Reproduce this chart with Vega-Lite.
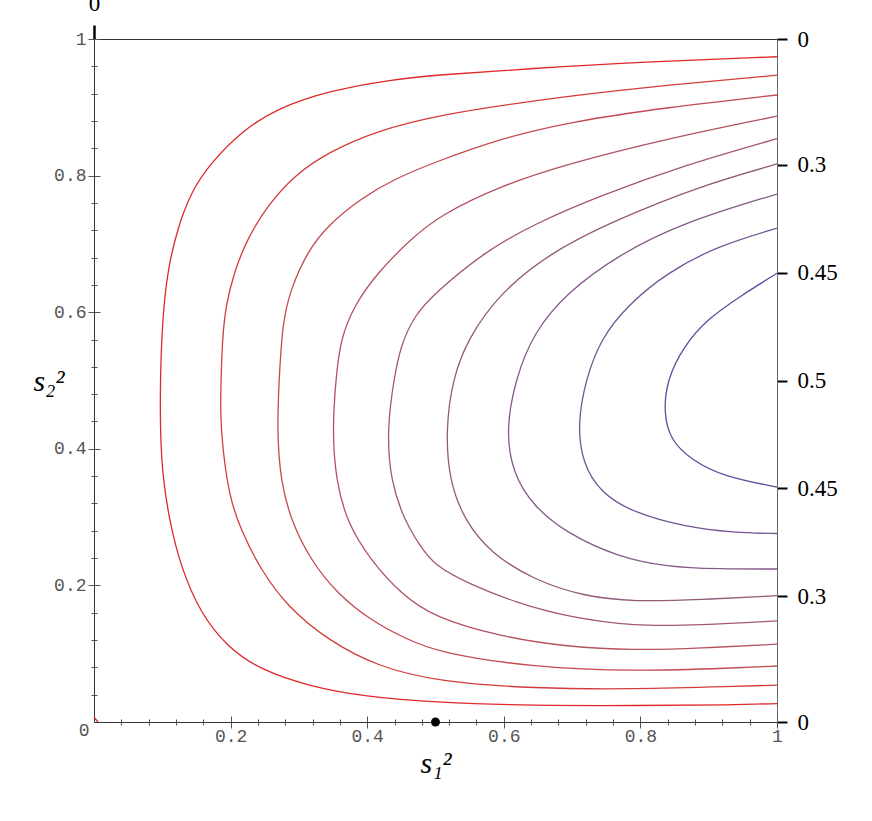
{
  "$schema": "https://vega.github.io/schema/vega-lite/v6.json",
  "width": 683,
  "height": 683,
  "autosize": {"type": "none"},
  "padding": {"left": 94, "top": 39, "right": 95, "bottom": 99},
  "background": "white",
  "config": {"view": {"stroke": null}, "axis": {"grid": false, "labelOverlap": false, "labelFlush": false}},
  "datasets": {
    "dot": [{"x": 0.5, "y": 0}],
    "contours": [
      {"c":"c0","i":0,"x":0,"y":0.007},{"c":"c0","i":1,"x":0.006,"y":0},
      {"c":"c1","i":0,"x":1,"y":0.974},{"c":"c1","i":1,"x":0.791,"y":0.966},{"c":"c1","i":2,"x":0.644,"y":0.957},{"c":"c1","i":3,"x":0.498,"y":0.947},{"c":"c1","i":4,"x":0.439,"y":0.941},{"c":"c1","i":5,"x":0.342,"y":0.924},{"c":"c1","i":6,"x":0.268,"y":0.898},{"c":"c1","i":7,"x":0.22,"y":0.868},{"c":"c1","i":8,"x":0.171,"y":0.819},{"c":"c1","i":9,"x":0.142,"y":0.776},{"c":"c1","i":10,"x":0.122,"y":0.722},{"c":"c1","i":11,"x":0.107,"y":0.658},{"c":"c1","i":12,"x":0.1,"y":0.585},{"c":"c1","i":13,"x":0.097,"y":0.502},{"c":"c1","i":14,"x":0.097,"y":0.428},{"c":"c1","i":15,"x":0.1,"y":0.364},{"c":"c1","i":16,"x":0.11,"y":0.296},{"c":"c1","i":17,"x":0.127,"y":0.227},{"c":"c1","i":18,"x":0.156,"y":0.159},{"c":"c1","i":19,"x":0.195,"y":0.11},{"c":"c1","i":20,"x":0.244,"y":0.076},{"c":"c1","i":21,"x":0.317,"y":0.052},{"c":"c1","i":22,"x":0.39,"y":0.038},{"c":"c1","i":23,"x":0.505,"y":0.028},{"c":"c1","i":24,"x":0.644,"y":0.024},{"c":"c1","i":25,"x":0.791,"y":0.024},{"c":"c1","i":26,"x":0.937,"y":0.025},{"c":"c1","i":27,"x":1,"y":0.027},
      {"c":"c2","i":0,"x":1,"y":0.947},{"c":"c2","i":1,"x":0.791,"y":0.928},{"c":"c2","i":2,"x":0.644,"y":0.91},{"c":"c2","i":3,"x":0.505,"y":0.889},{"c":"c2","i":4,"x":0.415,"y":0.866},{"c":"c2","i":5,"x":0.342,"y":0.834},{"c":"c2","i":6,"x":0.293,"y":0.8},{"c":"c2","i":7,"x":0.254,"y":0.756},{"c":"c2","i":8,"x":0.224,"y":0.707},{"c":"c2","i":9,"x":0.205,"y":0.658},{"c":"c2","i":10,"x":0.193,"y":0.61},{"c":"c2","i":11,"x":0.188,"y":0.561},{"c":"c2","i":12,"x":0.186,"y":0.502},{"c":"c2","i":13,"x":0.185,"y":0.452},{"c":"c2","i":14,"x":0.188,"y":0.403},{"c":"c2","i":15,"x":0.198,"y":0.33},{"c":"c2","i":16,"x":0.215,"y":0.281},{"c":"c2","i":17,"x":0.244,"y":0.223},{"c":"c2","i":18,"x":0.283,"y":0.169},{"c":"c2","i":19,"x":0.342,"y":0.12},{"c":"c2","i":20,"x":0.415,"y":0.081},{"c":"c2","i":21,"x":0.505,"y":0.059},{"c":"c2","i":22,"x":0.644,"y":0.049},{"c":"c2","i":23,"x":0.791,"y":0.048},{"c":"c2","i":24,"x":0.937,"y":0.052},{"c":"c2","i":25,"x":1,"y":0.054},
      {"c":"c3","i":0,"x":1,"y":0.918},{"c":"c3","i":1,"x":0.839,"y":0.9},{"c":"c3","i":2,"x":0.693,"y":0.878},{"c":"c3","i":3,"x":0.595,"y":0.854},{"c":"c3","i":4,"x":0.505,"y":0.822},{"c":"c3","i":5,"x":0.439,"y":0.795},{"c":"c3","i":6,"x":0.39,"y":0.766},{"c":"c3","i":7,"x":0.342,"y":0.727},{"c":"c3","i":8,"x":0.312,"y":0.688},{"c":"c3","i":9,"x":0.288,"y":0.634},{"c":"c3","i":10,"x":0.276,"y":0.585},{"c":"c3","i":11,"x":0.271,"y":0.502},{"c":"c3","i":12,"x":0.268,"y":0.428},{"c":"c3","i":13,"x":0.273,"y":0.354},{"c":"c3","i":14,"x":0.288,"y":0.296},{"c":"c3","i":15,"x":0.317,"y":0.237},{"c":"c3","i":16,"x":0.356,"y":0.188},{"c":"c3","i":17,"x":0.405,"y":0.149},{"c":"c3","i":18,"x":0.454,"y":0.123},{"c":"c3","i":19,"x":0.505,"y":0.101},{"c":"c3","i":20,"x":0.644,"y":0.08},{"c":"c3","i":21,"x":0.791,"y":0.074},{"c":"c3","i":22,"x":0.937,"y":0.079},{"c":"c3","i":23,"x":1,"y":0.082},
      {"c":"c4","i":0,"x":1,"y":0.887},{"c":"c4","i":1,"x":0.839,"y":0.854},{"c":"c4","i":2,"x":0.693,"y":0.817},{"c":"c4","i":3,"x":0.595,"y":0.785},{"c":"c4","i":4,"x":0.505,"y":0.741},{"c":"c4","i":5,"x":0.464,"y":0.707},{"c":"c4","i":6,"x":0.415,"y":0.658},{"c":"c4","i":7,"x":0.381,"y":0.61},{"c":"c4","i":8,"x":0.361,"y":0.561},{"c":"c4","i":9,"x":0.354,"y":0.502},{"c":"c4","i":10,"x":0.349,"y":0.428},{"c":"c4","i":11,"x":0.354,"y":0.354},{"c":"c4","i":12,"x":0.371,"y":0.291},{"c":"c4","i":13,"x":0.405,"y":0.237},{"c":"c4","i":14,"x":0.449,"y":0.188},{"c":"c4","i":15,"x":0.498,"y":0.153},{"c":"c4","i":16,"x":0.595,"y":0.125},{"c":"c4","i":17,"x":0.693,"y":0.11},{"c":"c4","i":18,"x":0.791,"y":0.105},{"c":"c4","i":19,"x":0.888,"y":0.108},{"c":"c4","i":20,"x":1,"y":0.114},
      {"c":"c5","i":0,"x":1,"y":0.854},{"c":"c5","i":1,"x":0.864,"y":0.815},{"c":"c5","i":2,"x":0.742,"y":0.771},{"c":"c5","i":3,"x":0.644,"y":0.729},{"c":"c5","i":4,"x":0.571,"y":0.688},{"c":"c5","i":5,"x":0.498,"y":0.627},{"c":"c5","i":6,"x":0.469,"y":0.595},{"c":"c5","i":7,"x":0.449,"y":0.551},{"c":"c5","i":8,"x":0.439,"y":0.502},{"c":"c5","i":9,"x":0.429,"y":0.428},{"c":"c5","i":10,"x":0.434,"y":0.354},{"c":"c5","i":11,"x":0.454,"y":0.296},{"c":"c5","i":12,"x":0.478,"y":0.257},{"c":"c5","i":13,"x":0.498,"y":0.23},{"c":"c5","i":14,"x":0.547,"y":0.203},{"c":"c5","i":15,"x":0.62,"y":0.174},{"c":"c5","i":16,"x":0.693,"y":0.154},{"c":"c5","i":17,"x":0.791,"y":0.14},{"c":"c5","i":18,"x":0.888,"y":0.142},{"c":"c5","i":19,"x":1,"y":0.148},
      {"c":"c6","i":0,"x":1,"y":0.817},{"c":"c6","i":1,"x":0.888,"y":0.785},{"c":"c6","i":2,"x":0.766,"y":0.736},{"c":"c6","i":3,"x":0.669,"y":0.688},{"c":"c6","i":4,"x":0.595,"y":0.629},{"c":"c6","i":5,"x":0.547,"y":0.561},{"c":"c6","i":6,"x":0.525,"y":0.502},{"c":"c6","i":7,"x":0.515,"y":0.428},{"c":"c6","i":8,"x":0.52,"y":0.354},{"c":"c6","i":9,"x":0.542,"y":0.296},{"c":"c6","i":10,"x":0.581,"y":0.247},{"c":"c6","i":11,"x":0.644,"y":0.208},{"c":"c6","i":12,"x":0.717,"y":0.184},{"c":"c6","i":13,"x":0.791,"y":0.176},{"c":"c6","i":14,"x":0.888,"y":0.179},{"c":"c6","i":15,"x":1,"y":0.185},
      {"c":"c7","i":0,"x":1,"y":0.773},{"c":"c7","i":1,"x":0.864,"y":0.732},{"c":"c7","i":2,"x":0.766,"y":0.683},{"c":"c7","i":3,"x":0.693,"y":0.629},{"c":"c7","i":4,"x":0.644,"y":0.571},{"c":"c7","i":5,"x":0.617,"y":0.502},{"c":"c7","i":6,"x":0.603,"y":0.428},{"c":"c7","i":7,"x":0.613,"y":0.364},{"c":"c7","i":8,"x":0.644,"y":0.315},{"c":"c7","i":9,"x":0.693,"y":0.276},{"c":"c7","i":10,"x":0.766,"y":0.242},{"c":"c7","i":11,"x":0.839,"y":0.227},{"c":"c7","i":12,"x":0.913,"y":0.224},{"c":"c7","i":13,"x":1,"y":0.224},
      {"c":"c8","i":0,"x":1,"y":0.723},{"c":"c8","i":1,"x":0.913,"y":0.697},{"c":"c8","i":2,"x":0.839,"y":0.658},{"c":"c8","i":3,"x":0.781,"y":0.61},{"c":"c8","i":4,"x":0.742,"y":0.561},{"c":"c8","i":5,"x":0.72,"y":0.502},{"c":"c8","i":6,"x":0.708,"y":0.437},{"c":"c8","i":7,"x":0.715,"y":0.379},{"c":"c8","i":8,"x":0.742,"y":0.335},{"c":"c8","i":9,"x":0.791,"y":0.306},{"c":"c8","i":10,"x":0.864,"y":0.286},{"c":"c8","i":11,"x":0.937,"y":0.277},{"c":"c8","i":12,"x":1,"y":0.276},
      {"c":"c9","i":0,"x":1,"y":0.657},{"c":"c9","i":1,"x":0.947,"y":0.624},{"c":"c9","i":2,"x":0.898,"y":0.59},{"c":"c9","i":3,"x":0.864,"y":0.551},{"c":"c9","i":4,"x":0.839,"y":0.502},{"c":"c9","i":5,"x":0.834,"y":0.452},{"c":"c9","i":6,"x":0.844,"y":0.413},{"c":"c9","i":7,"x":0.874,"y":0.384},{"c":"c9","i":8,"x":0.922,"y":0.359},{"c":"c9","i":9,"x":1,"y":0.344}
    ]
  },
  "resolve": {"axis": {"x": "independent", "y": "independent"}},
  "layer": [
    {
      "data": {"name": "contours"},
      "mark": {"type": "line", "interpolate": "basis", "strokeWidth": 1.3},
      "encoding": {
        "x": {"field": "x", "type": "quantitative", "scale": {"domain": [0, 1], "nice": false, "zero": false},
          "axis": {"orient": "bottom", "values": [0.2, 0.4, 0.6, 0.8, 1], "format": "~g", "tickSize": 6, "tickColor": "#555", "domainColor": "#333",
            "labelFont": "Liberation Mono", "labelFontSize": 18, "labelColor": "#555", "labelPadding": -1,
            "title": "s₁²", "titleFont": "Liberation Serif", "titleFontSize": 30, "titleFontStyle": "italic", "titleFontWeight": "normal", "titleColor": "#000",
            "titleBaseline": "alphabetic", "titleAlign": "center", "titleX": 341.5, "titleY": 50}},
        "y": {"field": "y", "type": "quantitative", "scale": {"domain": [0, 1], "nice": false, "zero": false},
          "axis": {"orient": "left", "values": [0.2, 0.4, 0.6, 0.8, 1], "format": "~g", "tickSize": 6, "tickColor": "#555", "domainColor": "#333",
            "labelFont": "Liberation Mono", "labelFontSize": 18, "labelColor": "#555", "labelPadding": 2,
            "title": "s₂²", "titleFont": "Liberation Serif", "titleFontSize": 30, "titleFontStyle": "italic", "titleFontWeight": "normal", "titleColor": "#000",
            "titleAngle": 0, "titleAlign": "right", "titleBaseline": "alphabetic", "titleX": -30, "titleY": 351}},
        "color": {"field": "c", "type": "nominal", "legend": null,
          "scale": {"domain": ["c0", "c1", "c2", "c3", "c4", "c5", "c6", "c7", "c8", "c9"],
                    "range": ["#e02828", "#e02828", "#d43c3c", "#c44a50", "#b4525e", "#a4586c", "#945a7a", "#845a88", "#725594", "#5f4c9e"]}},
        "order": {"field": "i", "type": "quantitative"}
      }
    },
    {
      "data": {"name": "dot"},
      "mark": {"type": "point", "filled": true, "color": "#000", "opacity": 1, "size": 80},
      "encoding": {
        "x": {"field": "x", "type": "quantitative", "scale": {"domain": [0, 1], "nice": false, "zero": false},
          "axis": {"orient": "bottom", "values": [0.2, 0.4, 0.6, 0.8, 1], "tickSize": -6, "tickColor": "#555", "domain": false, "labels": false, "title": null}},
        "y": {"field": "y", "type": "quantitative", "scale": {"domain": [0, 1], "nice": false, "zero": false},
          "axis": {"orient": "left", "values": [0.2, 0.4, 0.6, 0.8, 1], "tickSize": -6, "tickColor": "#555", "domain": false, "labels": false, "title": null}}
      }
    },
    {
      "data": {"name": "dot"},
      "mark": {"type": "point", "opacity": 0},
      "encoding": {
        "x": {"field": "x", "type": "quantitative", "scale": {"domain": [0, 1], "nice": false, "zero": false},
          "axis": {"orient": "bottom", "values": [0.04,0.08,0.12,0.16,0.24,0.28,0.32,0.36,0.44,0.48,0.52,0.56,0.64,0.68,0.72,0.76,0.84,0.88,0.92,0.96], "tickSize": 3, "tickColor": "#555", "domain": false, "labels": false, "title": null}},
        "y": {"field": "y", "type": "quantitative", "scale": {"domain": [0, 1], "nice": false, "zero": false},
          "axis": {"orient": "left", "values": [0.04,0.08,0.12,0.16,0.24,0.28,0.32,0.36,0.44,0.48,0.52,0.56,0.64,0.68,0.72,0.76,0.84,0.88,0.92,0.96], "tickSize": 3, "tickColor": "#555", "domain": false, "labels": false, "title": null}}
      }
    },
    {
      "data": {"name": "dot"},
      "mark": {"type": "point", "opacity": 0},
      "encoding": {
        "x": {"field": "x", "type": "quantitative", "scale": {"domain": [0, 1], "nice": false, "zero": false},
          "axis": {"orient": "bottom", "values": [0.04,0.08,0.12,0.16,0.24,0.28,0.32,0.36,0.44,0.48,0.52,0.56,0.64,0.68,0.72,0.76,0.84,0.88,0.92,0.96], "tickSize": -3, "tickColor": "#555", "domain": false, "labels": false, "title": null}},
        "y": {"field": "y", "type": "quantitative", "scale": {"domain": [0, 1], "nice": false, "zero": false},
          "axis": {"orient": "left", "values": [0.04,0.08,0.12,0.16,0.24,0.28,0.32,0.36,0.44,0.48,0.52,0.56,0.64,0.68,0.72,0.76,0.84,0.88,0.92,0.96], "tickSize": -3, "tickColor": "#555", "domain": false, "labels": false, "title": null}}
      }
    },
    {
      "data": {"name": "dot"},
      "mark": {"type": "point", "opacity": 0},
      "encoding": {
        "x": {"field": "x", "type": "quantitative", "scale": {"domain": [0, 1], "nice": false, "zero": false},
          "axis": {"orient": "top", "values": [0], "tickSize": 14, "tickWidth": 2.5, "tickColor": "#000", "domainColor": "#333",
            "labelFont": "Liberation Serif", "labelFontSize": 23, "labelColor": "#000", "labelPadding": 10, "title": null}},
        "y": {"field": "y", "type": "quantitative", "scale": {"domain": [0, 1], "nice": false, "zero": false},
          "axis": {"orient": "right", "values": [0, 0.1838, 0.3419, 0.5, 0.6581, 0.8162, 1], "tickSize": 10, "tickWidth": 2, "tickColor": "#000", "domainColor": "#666",
            "labelFont": "Liberation Serif", "labelFontSize": 23, "labelColor": "#000", "labelPadding": 10, "title": null,
            "labelExpr": "abs(datum.value-0.5) < 0.01 ? '0.5' : abs(datum.value-0.5) < 0.2 ? '0.45' : abs(datum.value-0.5) < 0.4 ? '0.3' : '0'"}}
      }
    },
    {
      "data": {"name": "dot"},
      "mark": {"type": "point", "opacity": 0},
      "encoding": {
        "x": {"field": "x", "type": "quantitative", "scale": {"domain": [0, 1], "nice": false, "zero": false},
          "axis": {"orient": "bottom", "values": [0], "ticks": false, "tickSize": 0, "domain": false,
            "labelFont": "Liberation Mono", "labelFontSize": 18, "labelColor": "#555", "labelAlign": "right", "labelOffset": -5, "labelPadding": -1, "title": null}},
        "y": {"field": "y", "type": "quantitative", "scale": {"domain": [0, 1], "nice": false, "zero": false}, "axis": null}
      }
    }
  ]
}
